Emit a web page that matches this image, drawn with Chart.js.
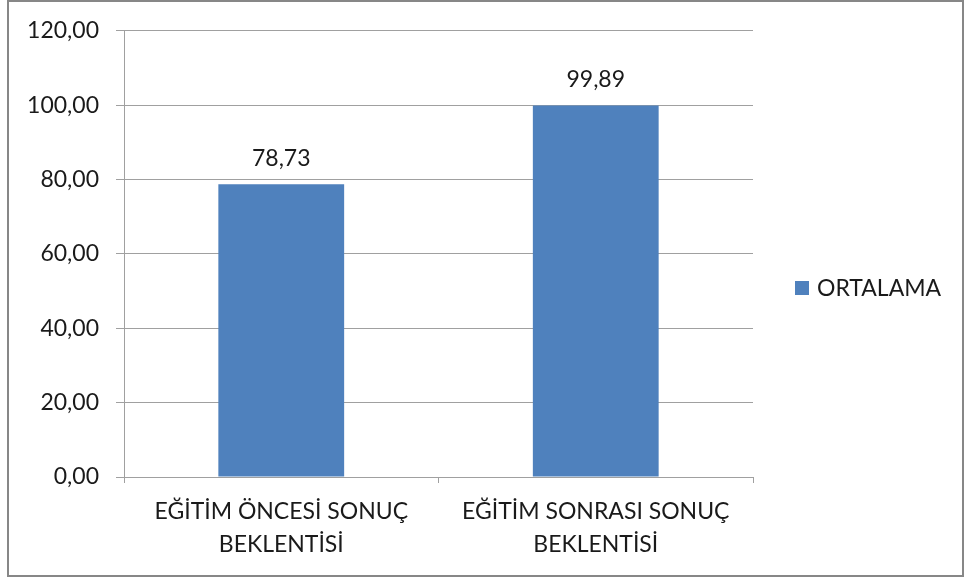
<!DOCTYPE html>
<html>
<head>
<meta charset="utf-8">
<script src="https://cdn.jsdelivr.net/npm/chart.js@4/dist/chart.umd.min.js"></script>
<style>
  html, body { margin: 0; padding: 0; background: #fff; }
  #wrap { width: 965px; height: 581px; position: relative; }
</style>
</head>
<body>
<div id="wrap"><canvas id="chart"></canvas></div>
<script>
// data
let categories = [
  ["EĞİTİM ÖNCESİ SONUÇ", "BEKLENTİSİ"],
  ["EĞİTİM SONRASI SONUÇ", "BEKLENTİSİ"],
];
let seriesName = "ORTALAMA";
let ortalama = [78.73, 99.89];
let yTicks = [0, 20, 40, 60, 80, 100, 120];

let fmt = (v) => Number(v).toFixed(2).replace(".", ",");
let fontFam = "Lato, 'Open Sans', sans-serif";
let fontSize = 23;
let textColor = "#1a1a1a";
let gridColor = "#a0a0a0";
let barColor = "#4f81bd";

// outer frame around the whole picture
let framePlugin = {
  id: "frame",
  afterDraw: (chart) => {
    let ctx = chart.ctx;
    ctx.save();
    ctx.strokeStyle = "#878787";
    ctx.lineWidth = 2;
    ctx.strokeRect(8, 1, 955, 575);
    ctx.restore();
  },
};

// value labels above the bars
let valueLabels = {
  id: "valueLabels",
  afterDatasetsDraw: (chart) => {
    let ctx = chart.ctx;
    ctx.save();
    ctx.font = fontSize + "px " + fontFam;
    ctx.fillStyle = textColor;
    ctx.textAlign = "center";
    ctx.textBaseline = "middle";
    chart.getDatasetMeta(0).data.forEach((bar, i) => {
      ctx.fillText(fmt(chart.data.datasets[0].data[i]), bar.x, bar.y - 26);
    });
    ctx.restore();
  },
};

// legend on the right, beside the plot area
let sideLegend = {
  id: "sideLegend",
  afterDraw: (chart) => {
    let ctx = chart.ctx;
    let area = chart.chartArea;
    let x = area.right + 42;
    let y = 288;
    ctx.save();
    chart.data.datasets.forEach((ds) => {
      ctx.fillStyle = ds.backgroundColor;
      ctx.fillRect(x, y - 7, 14, 14);
      ctx.font = fontSize + "px " + fontFam;
      ctx.fillStyle = textColor;
      ctx.textAlign = "left";
      ctx.textBaseline = "middle";
      ctx.fillText(ds.label, x + 22, y + 1);
    });
    ctx.restore();
  },
};

let ctx = document.getElementById("chart").getContext("2d");
let myChart = new Chart(ctx, {
  type: "bar",
  data: {
    labels: categories,
    datasets: [
      {
        label: seriesName,
        data: ortalama,
        backgroundColor: barColor,
        borderWidth: 0,
        categoryPercentage: 1,
        barPercentage: 0.4,
      },
    ],
  },
  options: {
    responsive: true,
    maintainAspectRatio: false,
    animation: false,
    layout: { padding: { left: 0, top: 30, right: 212, bottom: 0 } },
    plugins: {
      tooltip: { enabled: false },
      legend: { display: false },
    },
    scales: {
      x: {
        afterFit: (scale) => { scale.height = 104; },
        grid: {
          offset: true,
          drawOnChartArea: false,
          drawTicks: true,
          tickLength: 6,
          color: gridColor,
        },
        border: { color: gridColor, width: 1 },
        ticks: {
          color: textColor,
          padding: 12,
          maxRotation: 0,
          font: { family: fontFam, size: fontSize, lineHeight: 33 / fontSize },
        },
      },
      y: {
        min: 0,
        max: 120,
        afterFit: (scale) => { scale.width = 124; },
        afterBuildTicks: (scale) => {
          scale.ticks = yTicks.map((v) => ({ value: v }));
        },
        grid: { color: gridColor, tickLength: 8 },
        border: { color: gridColor, width: 1 },
        ticks: {
          color: textColor,
          padding: 17,
          callback: (v) => fmt(v),
          font: { family: fontFam, size: fontSize },
        },
      },
    },
  },
  plugins: [framePlugin, valueLabels, sideLegend],
});
</script>
</body>
</html>
